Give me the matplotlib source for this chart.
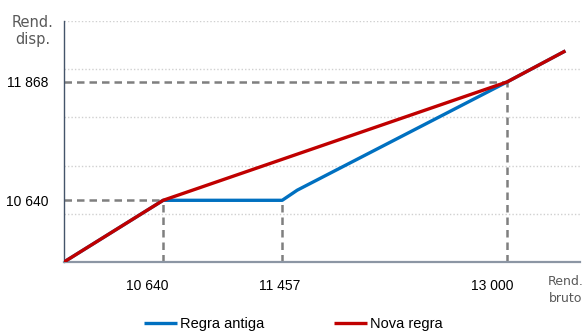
import matplotlib
matplotlib.use('Agg')
import matplotlib.pyplot as plt
import numpy as np

## Data (schematic income chart)
old_x = [9960, 10640, 11457, 11560, 13000, 13400]
old_y = [10000, 10640, 10640, 10745, 11868, 12190]
new_x = [9960, 10640, 13000, 13400]
new_y = [10000, 10640, 11868, 12190]

# reference points with dashed guides
ref_x = [10640, 11457, 13000]
ref_y = [10640, 10640, 11868]
xtick_labels = ["10 640", "11 457", "13 000"]
ytick_vals = [10640, 11868]
ytick_labels = ["10 640", "11 868"]
grid_vals = [10500, 11000, 11500, 12000, 12500]

blue = "#0070C0"
red = "#C00000"
gray = "#7F7F7F"

fig = plt.figure(figsize=(5.88, 3.33), dpi=100)
ax = fig.add_axes([64 / 588, 1 - 262 / 333, (580 - 64) / 588, (262 - 21) / 333])
ax.set_xlim(9960, 13500)
ax.set_ylim(10000, 12500)

# dotted grid
for g in grid_vals:
    ax.axhline(g, color="#D0D0D0", lw=1.0, ls=(0, (1, 1.5)), zorder=0)

# dashed guides
for xv, yv in zip(ref_x, ref_y):
    ax.plot([xv, xv], [10000, yv], color=gray, lw=1.8, ls=(0, (3, 2)), zorder=1)
ax.plot([9960, ref_x[0]], [ref_y[0], ref_y[0]], color=gray, lw=1.8, ls=(0, (3, 2)), zorder=1)
ax.plot([9960, ref_x[2]], [ref_y[2], ref_y[2]], color=gray, lw=1.8, ls=(0, (3, 2)), zorder=1)

ax.plot(old_x, old_y, color=blue, lw=2.4, label="Regra antiga", zorder=3,
        solid_capstyle='butt')
ax.plot(new_x, new_y, color=red, lw=2.4, label="Nova regra", zorder=4,
        solid_capstyle='butt')

# axes styling
for s in ["top", "right"]:
    ax.spines[s].set_visible(False)
ax.spines["left"].set_color("#44546A")
ax.spines["left"].set_linewidth(1.0)
ax.spines["bottom"].set_color("#8C96A4")
ax.spines["bottom"].set_linewidth(1.6)

ax.set_xticks([])
ax.set_yticks(ytick_vals)
ax.set_yticklabels(ytick_labels, fontsize=10, family="Liberation Sans")
ax.tick_params(axis="y", length=0, pad=11)

# x labels (placed like the original annotations)
x_offsets = [-16, -3, -15]
for xv, lab, off in zip(ref_x, xtick_labels, x_offsets):
    ax.annotate(lab, xy=(xv, 10000), xytext=(off, -24), textcoords="offset pixels",
                ha="center", va="center", fontsize=10, family="Liberation Sans")

fig.text(33 / 588, 1 - 31 / 333, "Rend.\ndisp.", ha="center", va="center",
         fontsize=10.5, color="#595959", linespacing=1.2)
fig.text(566 / 588, 1 - 290 / 333, "Rend.\nbruto", ha="center", va="center",
         fontsize=9, color="#595959", linespacing=1.35)

fig.legend(loc="center", bbox_to_anchor=(293 / 588, 1 - 324 / 333), ncol=2,
           frameon=False, handlelength=2.3, handletextpad=0.15, columnspacing=4.8,
           prop={"family": "Liberation Sans", "size": 10.5})

fig.savefig("out.png", dpi=100)
